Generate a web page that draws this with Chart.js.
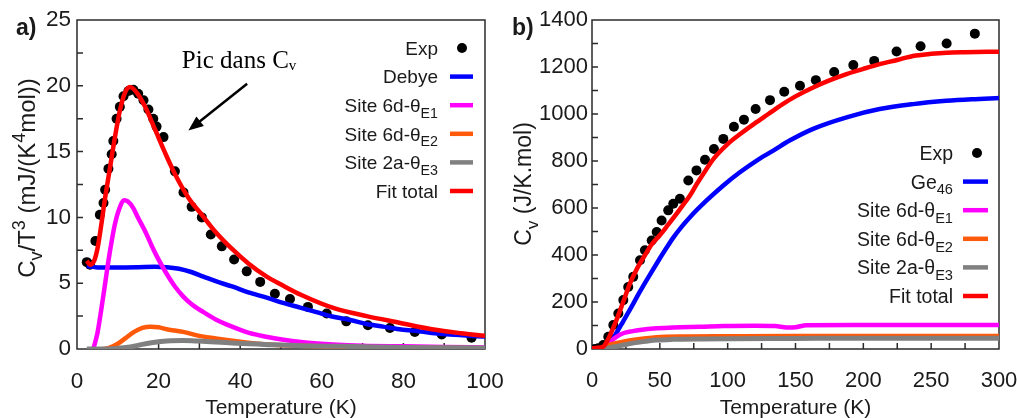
<!DOCTYPE html>
<html>
<head>
<meta charset="utf-8">
<script src="https://cdn.jsdelivr.net/npm/chart.js@4.4.1/dist/chart.umd.min.js"></script>
<style>
  body { margin: 0; background: #fff; width: 1017px; height: 418px; overflow: hidden; position: relative; }
  canvas { position: absolute; top: 0; }
  #chartA { left: 0; }
  #chartB { left: 505px; }
</style>
</head>
<body>
<canvas id="chartA" width="505" height="418"></canvas>
<canvas id="chartB" width="512" height="418"></canvas>
<script>
var FONT = "'Liberation Sans', Arial, sans-serif";
var SERIF = "'Liberation Serif', 'Times New Roman', serif";

// ---------- panel a) : Cv/T^3 ----------
var labelsA = ['Exp', 'Debye', 'Site 6d-θ_{E1}', 'Site 6d-θ_{E2}', 'Site 2a-θ_{E3}', 'Fit total'];
var xTicksA = [0, 20, 40, 60, 80, 100];
var yTicksA = [0, 5, 10, 15, 20, 25];

var expTA = [2.4, 3.2, 4.5, 5.6, 6.5, 6.9, 7.7, 8.5, 8.9, 9.7, 10.5, 11.4, 12.6, 13.8, 15.0, 16.3, 17.5, 18.7, 19.5, 21.2,
             24.0, 26.1, 28.1, 30.6, 32.8, 35.5, 38.5, 41.6, 44.9, 48.5, 52.2, 56.6, 61.2, 66.0, 71.3, 76.7, 82.8, 89.4, 96.7];
var expA  = [6.6, 6.4, 8.2, 10.2, 11.1, 12.1, 13.7, 14.8, 15.8, 17.5, 18.4, 19.2, 19.6, 19.7, 19.4, 18.9, 18.2, 17.5, 16.9, 16.1,
             13.5, 11.9, 10.8, 10.0, 8.7, 7.8, 6.8, 5.9, 5.1, 4.2, 3.8, 3.2, 2.7, 2.1, 1.8, 1.6, 1.3, 1.1, 0.85];

var debyeTA = [2.4, 5, 10, 15, 19, 22, 25, 28, 31, 34, 38, 42, 46.5, 50.5, 54.7, 58.7, 62.8, 67, 71, 75, 79, 83, 87, 91.4, 100];
var debyeA  = [6.3, 6.2, 6.2, 6.22, 6.25, 6.22, 6.1, 5.85, 5.5, 5.15, 4.75, 4.3, 3.9, 3.5, 3.15, 2.8, 2.45, 2.2, 1.9, 1.7, 1.5, 1.38, 1.22, 1.1, 0.95];

var e1TA = [4.0, 5, 6, 7, 7.7, 8.5, 9.3, 10.3, 11.6, 12.5, 13.8, 15, 16.7, 18.3, 19.9, 22, 24, 26, 28.1, 31, 34, 38, 42.4, 46, 50.6, 56, 62.8, 70, 80, 90, 100];
var e1A  = [0, 1.2, 3.1, 5.2, 6.7, 8.2, 9.5, 10.6, 11.3, 11.2, 10.7, 9.95, 8.95, 7.85, 6.85, 5.7, 4.75, 4.0, 3.4, 2.8, 2.25, 1.7, 1.2, 0.95, 0.7, 0.5, 0.35, 0.25, 0.2, 0.15, 0.12];

var e2TA = [6.4, 8, 10, 12, 14, 16, 18, 20, 22, 24, 26, 30, 34, 40, 46.5, 55, 65, 80, 100];
var e2A  = [0, 0.1, 0.4, 0.85, 1.3, 1.6, 1.7, 1.65, 1.5, 1.4, 1.3, 1.0, 0.8, 0.55, 0.35, 0.25, 0.15, 0.1, 0.05];

var e3TA = [2.4, 8, 10, 13, 16, 20, 23, 26, 30, 38, 46, 55, 65, 80, 100];
var e3A  = [0, 0, 0.05, 0.15, 0.35, 0.55, 0.62, 0.65, 0.6, 0.45, 0.35, 0.25, 0.2, 0.12, 0.08];

var fitTA = [2.4, 3.2, 4.2, 5.0, 5.6, 6.9, 8.1, 9.3, 10.5, 11.8, 13.0, 14.6, 16.7, 19.1, 21.6, 24, 27.3, 30.6, 33.8, 38, 42, 46.5, 50, 55, 63, 71, 79, 87, 94, 100];
var fitA  = [6.7, 6.4, 6.7, 7.6, 8.7, 11.5, 13.8, 16.1, 18.1, 19.5, 19.9, 19.5, 18.4, 16.7, 14.9, 13.3, 11.5, 10.2, 8.95, 7.6, 6.5, 5.5, 4.9, 4.1, 3.1, 2.5, 2.0, 1.5, 1.2, 1.0];

// ---------- panel b) : Cv ----------
var labelsB = ['Exp', 'Ge_{46}', 'Site 6d-θ_{E1}', 'Site 6d-θ_{E2}', 'Site 2a-θ_{E3}', 'Fit total'];
var xTicksB = [0, 50, 100, 150, 200, 250, 300];
var yTicksB = [0, 200, 400, 600, 800, 1000, 1200, 1400];

var expTB = [2, 4.6, 8.3, 12, 15.7, 19.4, 23.1, 26.7, 30.4, 35.4, 39, 44, 47.7, 51.3, 56.2, 59.9, 64.8, 71, 77, 83.3, 89.9,
             96.8, 104.6, 112, 120.6, 131.2, 141.7, 153.3, 165, 178.5, 192.6, 208, 224.5, 242.2, 261.4, 282.2];
var expB  = [0, 3, 17, 52, 102, 151, 208, 264, 307, 378, 420, 462, 498, 547, 590, 618, 639, 717, 760, 805, 851,
             894, 946, 976, 1021, 1059, 1095, 1120, 1144, 1179, 1208, 1226, 1266, 1288, 1300, 1342];

var geTB = [9, 13.3, 18, 23, 29, 35.4, 41.5, 47.7, 54, 59.9, 66, 72.2, 84.5, 96.8, 109, 121.4, 133.6, 146, 163, 187.7, 212, 236.7, 261, 280, 300];
var geB  = [0, 24, 68, 118, 178, 245, 305, 364, 422, 474, 520, 561, 632, 696, 752, 802, 844, 888, 937, 986, 1021, 1042, 1056, 1063, 1068];

var e1TB = [8, 12, 15, 18, 23, 30, 35.4, 47.7, 60, 80, 97, 120, 135, 143.5, 150, 158, 200, 250, 300];
var e1B  = [0, 20, 38, 52, 67, 76, 81, 88, 92, 95, 98, 99, 98, 92, 93, 101, 102, 102, 102];

var e2TB = [5, 10.8, 15, 23, 30, 47.7, 70, 100, 150, 200, 250, 300];
var e2B  = [0, 15, 22, 31, 38, 50, 53, 54, 55, 55, 55, 55];

var e3TB = [5, 10.8, 16, 23, 30, 40, 47.7, 60, 80, 100, 150, 200, 300];
var e3B  = [0, 3, 9, 17, 25, 33, 38, 41, 43, 44, 45, 46, 46];

var fitTB = [0, 4, 8.3, 13, 18, 23, 28, 33, 39, 44, 50, 56, 62.4, 67, 72.2, 77, 82, 90, 100, 110, 120, 130, 140, 150, 163, 175, 187.6, 200, 212, 225, 236.6, 250, 261.4, 275, 300];
var fitB  = [3, 5, 10, 55, 123, 200, 279, 340, 399, 445, 484, 528, 576, 612, 653, 700, 745, 812, 872, 918, 960, 1000, 1040, 1075, 1113, 1143, 1170, 1192, 1212, 1230, 1247, 1256, 1261, 1263, 1265];

var colors = ['#000000', '#0000ff', '#ff00ff', '#ff5a0a', '#808080', '#ff0000'];

// text with _{sub} and ^{sup} parts, y is the baseline
function drawRich(ctx, s, x, y, size, align, family) {
  var parts = [], re = /([_^])\{([^}]*)\}/g, last = 0, m;
  while ((m = re.exec(s))) {
    if (m.index > last) parts.push({ t: s.slice(last, m.index), m: 0 });
    parts.push({ t: m[2], m: m[1] === '_' ? -1 : 1 });
    last = re.lastIndex;
  }
  if (last < s.length) parts.push({ t: s.slice(last), m: 0 });
  var w = 0;
  parts.forEach(function (p) {
    ctx.font = (p.m ? size * 0.75 : size) + 'px ' + family;
    p.w = ctx.measureText(p.t).width;
    w += p.w;
  });
  var cx = align === 'right' ? x - w : align === 'center' ? x - w / 2 : x;
  ctx.textAlign = 'left';
  ctx.textBaseline = 'alphabetic';
  parts.forEach(function (p) {
    ctx.font = (p.m ? size * 0.75 : size) + 'px ' + family;
    var dy = p.m === -1 ? size * 0.3 : p.m === 1 ? -size * 0.42 : 0;
    ctx.fillText(p.t, cx, y + dy);
    cx += p.w;
  });
}

var layouts = {
  chartA: {
    xMinor: 10, yMinor: 2.5, tag: 'a)', tagX: 16,
    yTitle: 'C_{v}/T^{3} (mJ/(K^{4}mol))', yTitleX: 35, yTitleY: 178, yTitleSize: 24,
    xTitle: 'Temperature (K)', xTitleSize: 21,
    leg: { size: 19, textRight: 47, s1: 35, s2: 12, dot: 23, top: 28, gap: 28.6 },
    note: true
  },
  chartB: {
    xMinor: 25, yMinor: 100, tag: 'b)', tagX: 7,
    yTitle: 'C_{v} (J/K.mol)', yTitleX: 26, yTitleY: 184, yTitleSize: 23,
    xTitle: 'Temperature (K)', xTitleSize: 21,
    leg: { size: 19.5, textRight: 46, s1: 36, s2: 11, dot: 22, top: 133, gap: 28.6 },
    note: false
  }
};

var decor = {
  id: 'decor',
  beforeDatasetsDraw: function (chart) {
    var o = layouts[chart.canvas.id];
    var ctx = chart.ctx, a = chart.chartArea, sx = chart.scales.x, sy = chart.scales.y;
    ctx.save();
    ctx.strokeStyle = '#2b2b2b';
    ctx.lineWidth = 1.5;
    ctx.beginPath();
    var v, p;
    for (v = sx.min + o.xMinor; v < sx.max; v += o.xMinor) {
      p = sx.getPixelForValue(v);
      ctx.moveTo(p, a.bottom); ctx.lineTo(p, a.bottom - 6);
    }
    for (v = sy.min + o.yMinor; v < sy.max; v += o.yMinor) {
      p = sy.getPixelForValue(v);
      ctx.moveTo(a.left, p); ctx.lineTo(a.left + 6, p);
    }
    ctx.stroke();
    ctx.strokeRect(a.left, a.top, a.right - a.left, a.bottom - a.top);
    ctx.restore();
  },
  afterDraw: function (chart) {
    var o = layouts[chart.canvas.id];
    var ctx = chart.ctx, a = chart.chartArea, sx = chart.scales.x, sy = chart.scales.y;
    ctx.save();

    // legend, inside the frame at the right
    var L = o.leg;
    chart.data.datasets.forEach(function (ds, i) {
      var y = a.top + L.top + i * L.gap;
      ctx.fillStyle = '#1a1a1a';
      drawRich(ctx, ds.label, a.right - L.textRight, y + L.size * 0.36, L.size, 'right', FONT);
      if (ds.showLine === false) {
        ctx.fillStyle = ds.backgroundColor;
        ctx.beginPath();
        ctx.arc(a.right - L.dot, y, 5, 0, Math.PI * 2);
        ctx.fill();
      } else {
        ctx.strokeStyle = ds.borderColor;
        ctx.lineWidth = 4.5;
        ctx.beginPath();
        ctx.moveTo(a.right - L.s1, y);
        ctx.lineTo(a.right - L.s2, y);
        ctx.stroke();
      }
    });

    // axis titles
    ctx.fillStyle = '#1a1a1a';
    drawRich(ctx, o.xTitle, (a.left + a.right) / 2, 414, o.xTitleSize, 'center', FONT);
    ctx.save();
    ctx.translate(o.yTitleX, o.yTitleY);
    ctx.rotate(-Math.PI / 2);
    drawRich(ctx, o.yTitle, 0, 0, o.yTitleSize, 'center', FONT);
    ctx.restore();

    // panel tag
    ctx.font = 'bold 23px ' + FONT;
    ctx.textAlign = 'left';
    ctx.textBaseline = 'alphabetic';
    ctx.fillText(o.tag, o.tagX, 35);

    // annotation of the peak
    if (o.note) {
      ctx.fillStyle = '#000';
      var tx = sx.getPixelForValue(25.7), ty = sy.getPixelForValue(21.35);
      ctx.font = '25px ' + SERIF;
      ctx.fillText('Pic dans C', tx, ty);
      var w = ctx.measureText('Pic dans C').width;
      ctx.font = '15px ' + SERIF;
      ctx.fillText('v', tx + w, ty + 2);
      var x1 = sx.getPixelForValue(41.7), y1 = sy.getPixelForValue(20.15);
      var x2 = sx.getPixelForValue(27.3), y2 = sy.getPixelForValue(16.6);
      var ang = Math.atan2(y2 - y1, x2 - x1);
      ctx.strokeStyle = '#000';
      ctx.lineWidth = 2.5;
      ctx.beginPath();
      ctx.moveTo(x1, y1);
      ctx.lineTo(x2 - 10 * Math.cos(ang), y2 - 10 * Math.sin(ang));
      ctx.stroke();
      ctx.beginPath();
      ctx.moveTo(x2, y2);
      ctx.lineTo(x2 - 15 * Math.cos(ang) + 6 * Math.sin(ang), y2 - 15 * Math.sin(ang) - 6 * Math.cos(ang));
      ctx.lineTo(x2 - 15 * Math.cos(ang) - 6 * Math.sin(ang), y2 - 15 * Math.sin(ang) + 6 * Math.cos(ang));
      ctx.closePath();
      ctx.fill();
    }
    ctx.restore();
  }
};

function pts(xs, ys) {
  return xs.map(function (x, i) { return { x: x, y: ys[i] }; });
}

function plain(v) { return String(v); }

function makeChart(id, labels, series, cfg) {
  return new Chart(document.getElementById(id), {
    type: 'scatter',
    data: {
      datasets: series.map(function (s, i) {
        var dots = i === 0;
        return {
          label: labels[i],
          data: pts(s[0], s[1]),
          showLine: !dots,
          borderColor: colors[i],
          backgroundColor: colors[i],
          borderWidth: dots ? 0 : (i === 4 ? 5 : 4.5),
          pointRadius: dots ? cfg.dotR : 0,
          pointHoverRadius: 0,
          cubicInterpolationMode: 'monotone',
          order: series.length - i   // later series drawn on top
        };
      })
    },
    options: {
      responsive: false,
      animation: false,
      devicePixelRatio: 1,
      layout: { padding: cfg.pad },
      plugins: { legend: { display: false }, tooltip: { enabled: false } },
      scales: {
        x: {
          type: 'linear', min: cfg.xTicks[0], max: cfg.xTicks[cfg.xTicks.length - 1],
          grid: { display: false, drawTicks: false }, border: { display: false },
          afterBuildTicks: function (sc) { sc.ticks = cfg.xTicks.map(function (v) { return { value: v }; }); },
          afterFit: function (sc) { sc.height = cfg.xH; sc.paddingLeft = 0; sc.paddingRight = 0; },
          ticks: { font: { family: FONT, size: cfg.tickSize }, color: '#1a1a1a', padding: cfg.xPad, maxRotation: 0, autoSkip: false, callback: plain }
        },
        y: {
          type: 'linear', min: cfg.yTicks[0], max: cfg.yTicks[cfg.yTicks.length - 1],
          grid: { display: false, drawTicks: false }, border: { display: false },
          afterBuildTicks: function (sc) { sc.ticks = cfg.yTicks.map(function (v) { return { value: v }; }); },
          afterFit: function (sc) { sc.width = cfg.yW; sc.paddingTop = 0; sc.paddingBottom = 0; },
          ticks: { font: { family: FONT, size: cfg.tickSize }, color: '#1a1a1a', padding: cfg.yPad, autoSkip: false, callback: plain }
        }
      }
    },
    plugins: [decor]
  });
}

makeChart('chartA', labelsA,
  [[expTA, expA], [debyeTA, debyeA], [e1TA, e1A], [e2TA, e2A], [e3TA, e3A], [fitTA, fitA]],
  { xTicks: xTicksA, yTicks: yTicksA, pad: { left: 0, right: 20, top: 20, bottom: 0 },
    xH: 69, yW: 77, tickSize: 22.5, xPad: 19, yPad: 6, dotR: 5 });

makeChart('chartB', labelsB,
  [[expTB, expB], [geTB, geB], [e1TB, e1B], [e2TB, e2B], [e3TB, e3B], [fitTB, fitB]],
  { xTicks: xTicksB, yTicks: yTicksB, pad: { left: 0, right: 18, top: 20, bottom: 0 },
    xH: 69, yW: 87, tickSize: 22, xPad: 19, yPad: 4, dotR: 5 });
</script>
</body>
</html>
